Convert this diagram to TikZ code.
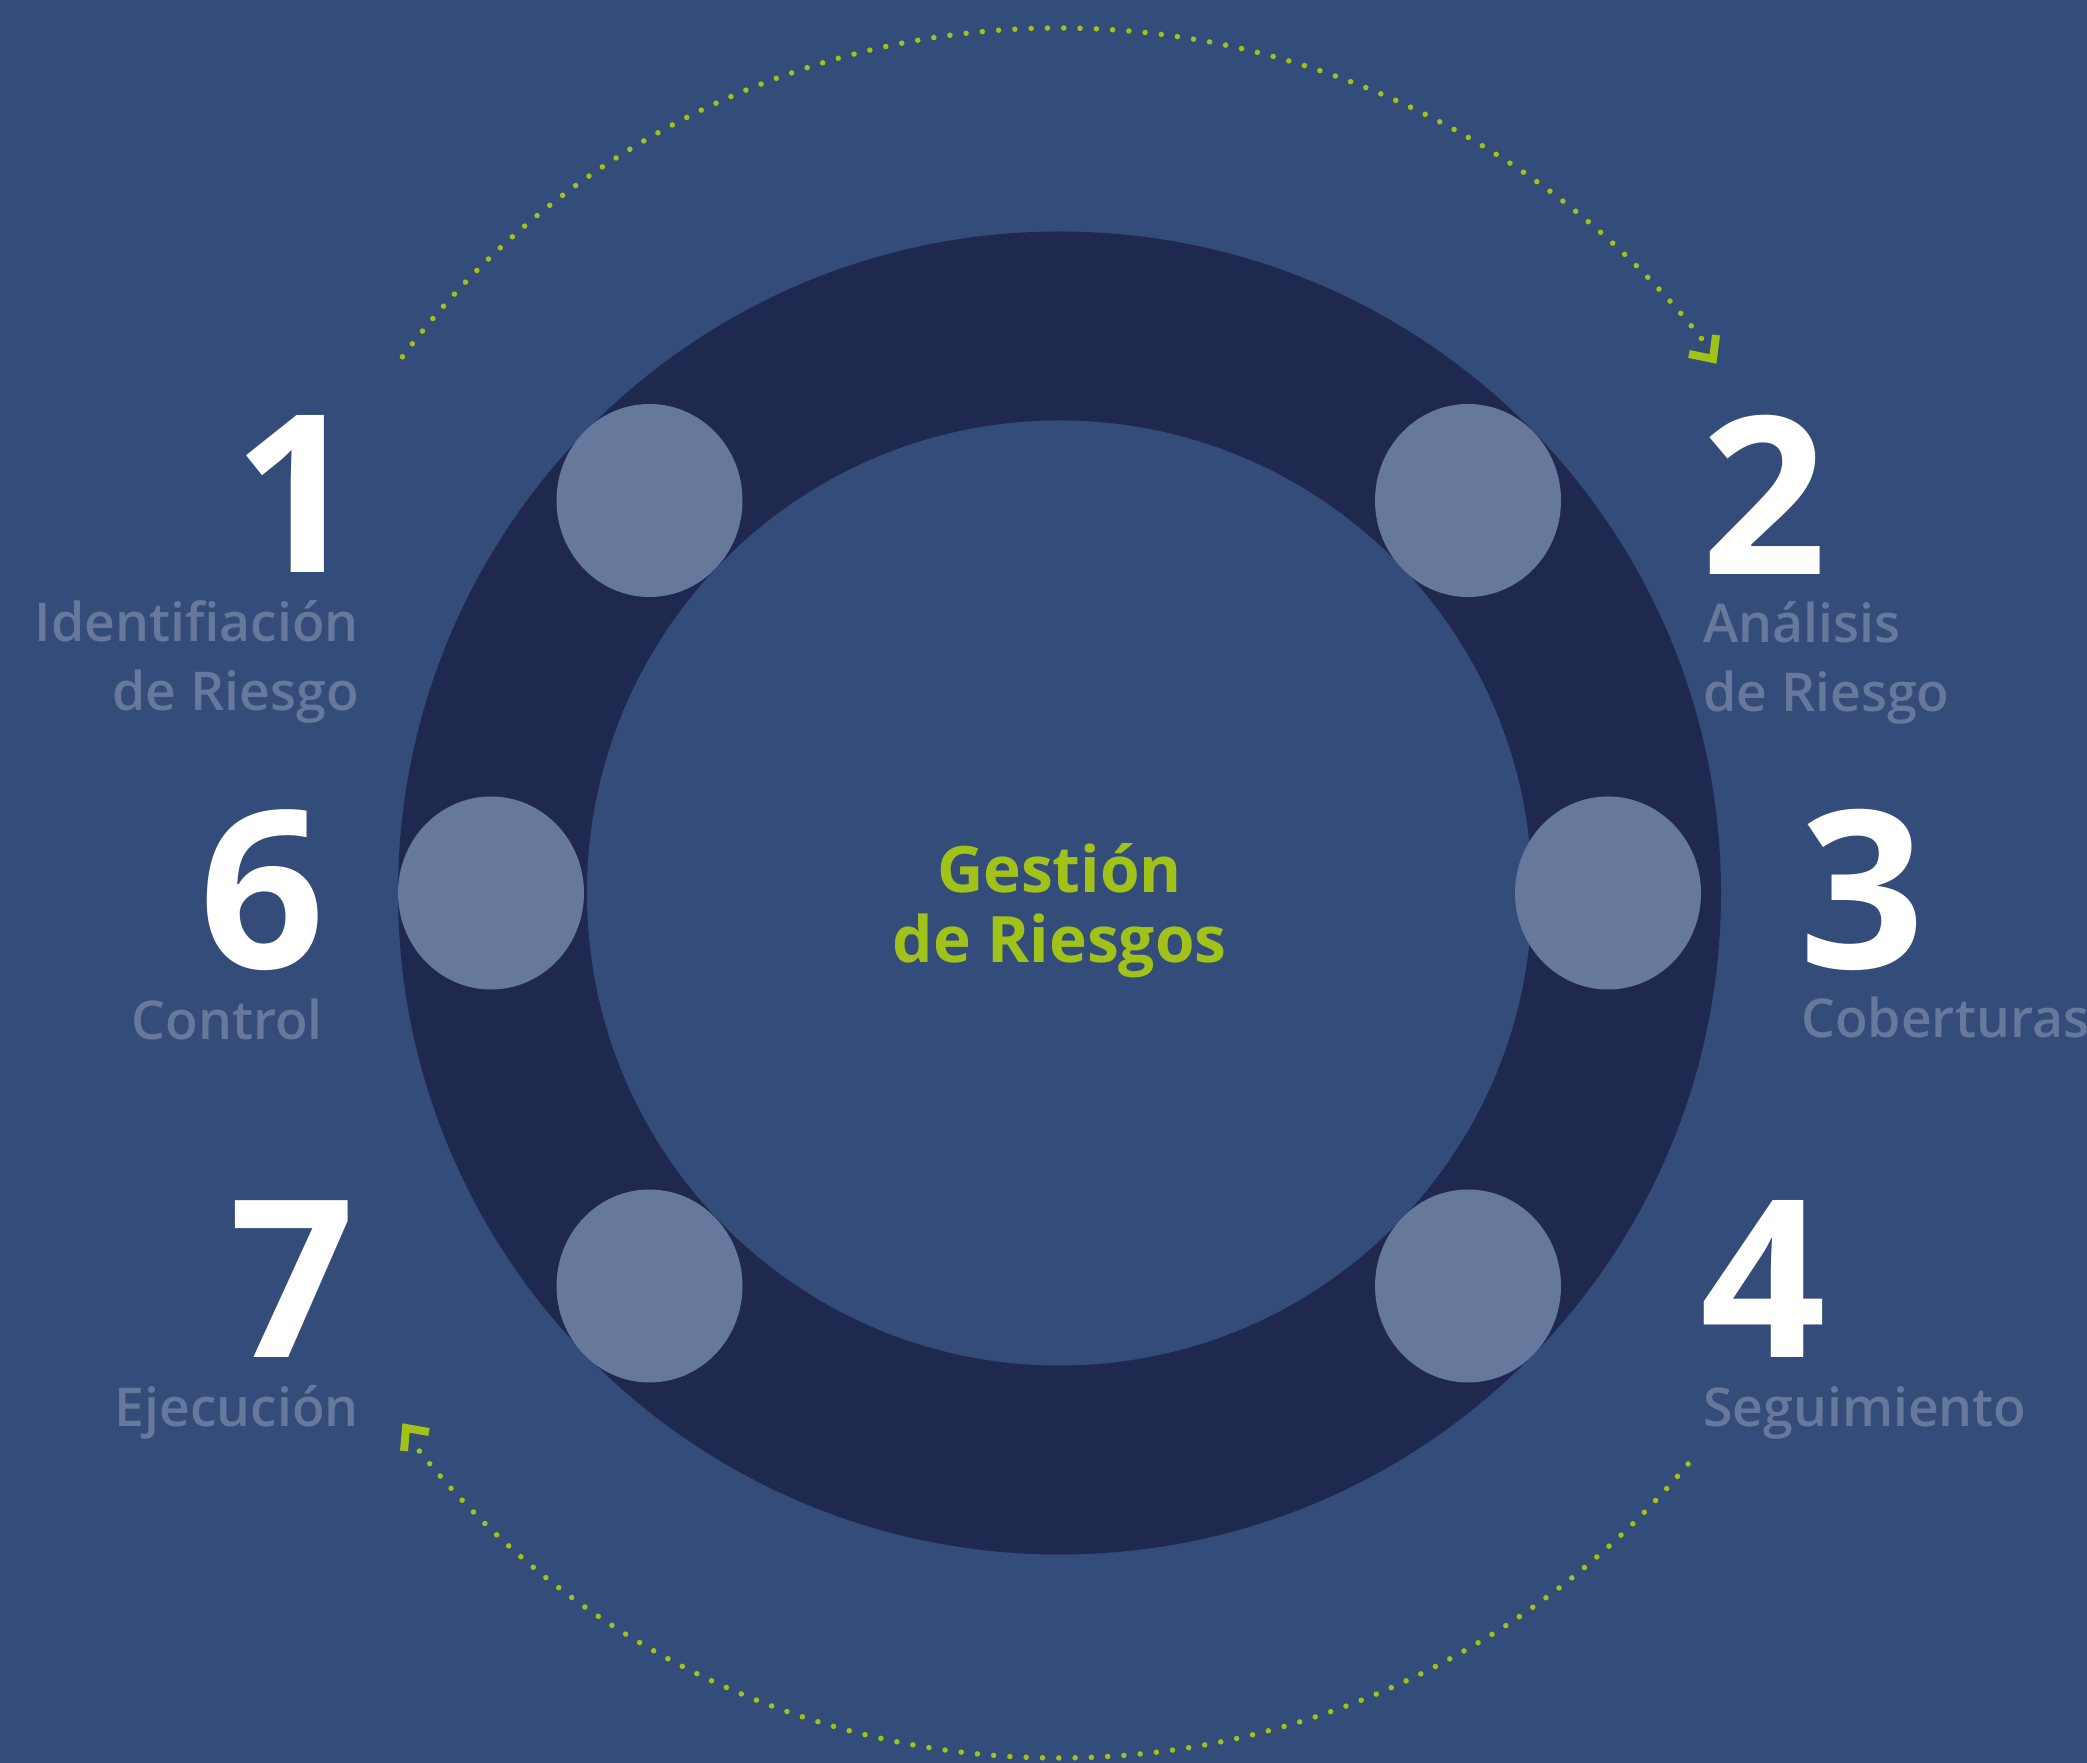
\documentclass[tikz,border=0pt]{standalone}
\usepackage{fontspec}
\setmainfont{Noto Sans}
\newcommand\pickfont[3]{\IfFontExistsTF{#2}{\newfontfamily#1{#2}}{#3}}
\pickfont\labfont{Noto Sans SemiBold}{\pickfont\labfont{Open Sans SemiBold}{\pickfont\labfont{Open Sans Semibold}{\newfontfamily\labfont{Noto Sans}[FakeBold=3]}}}
\pickfont\numfont{Noto Sans ExtraBold}{\pickfont\numfont{Noto Sans Bold}{\pickfont\numfont{Open Sans ExtraBold}{\pickfont\numfont{Open Sans Bold}{\newfontfamily\numfont{Noto Sans}[FakeBold=5]}}}}
\pickfont\ctrfont{Noto Sans Bold}{\pickfont\ctrfont{Open Sans Bold}{\newfontfamily\ctrfont{Noto Sans}[FakeBold=3.5]}}
\usetikzlibrary{shapes.geometric}
\definecolor{bg}{HTML}{344C7A}
\definecolor{ringc}{HTML}{1F2950}
\definecolor{dotc}{HTML}{66789B}
\definecolor{lime}{HTML}{A1C219}
\tikzset{
  stage/.style={ellipse, fill=dotc, inner sep=0pt, minimum width=186pt, minimum height=193pt},
  num/.style={font=\numfont\fontsize{220}{220}\selectfont, text=white, inner sep=0pt},
  lab/.style={font=\labfont\fontsize{53.5}{69}\selectfont, text=dotc, inner sep=0pt},
  ctr/.style={font=\ctrfont\fontsize{64}{70}\selectfont, text=lime, inner sep=0pt, align=center},
  flow/.style={draw=lime, line width=5.5pt, line cap=round, dash pattern=on 0pt off 16.3pt},
  chev/.style={draw=lime, line width=8pt, miter limit=10},
}
\begin{document}
\begin{tikzpicture}[x=1pt,y=1pt]
\fill[bg] (0,0) rectangle (2087,1763);
\useasboundingbox (0,0) rectangle (2087,1763);
\coordinate (C) at (1059.5,870);
\fill[ringc] (C) circle[radius=661.5];
\fill[bg] (C) circle[radius=472.5];
% stage circles
\node[stage] (c1) at (649.5,1262.5) {};
\node[stage] (c2) at (1468,1262.5) {};
\node[stage] (c6) at (491,870) {};
\node[stage] (c3) at (1608,870) {};
\node[stage] (c7) at (649.5,477) {};
\node[stage] (c4) at (1468,477) {};
% center text
\node[ctr, anchor=base] (g1) at (1059.5,870) {Gestión};
\node[ctr, anchor=base] (g2) at (1059.5,800) {de Riesgos};
% numbers
\node[num, anchor=base east] (n1) at (359,1190) {1};
\node[num, anchor=base west] (n2) at (1701,1188) {2};
\node[num, anchor=base east] (n6) at (325,794) {6};
\node[num, anchor=base west] (n3) at (1799,794) {3};
\node[num, anchor=base east] (n7) at (355,405) {7};
\node[num, anchor=base west] (n4) at (1700,405) {4};
% labels
\node[lab, anchor=base east] (l1a) at (359,1121) {Identifiación};
\node[lab, anchor=base east] (l1b) at (359,1052) {de Riesgo};
\node[lab, anchor=base west] (l2a) at (1703,1120) {Análisis};
\node[lab, anchor=base west] (l2b) at (1703,1051) {de Riesgo};
\node[lab, anchor=base east] (l6) at (323,723) {Control};
\node[lab, anchor=base west] (l3) at (1801,725) {Coberturas};
\node[lab, anchor=base east] (l7) at (359,336) {Ejecución};
\node[lab, anchor=base west] (l4) at (1703,336) {Seguimiento};
% cycle arcs
\coordinate (A1) at (1059,915);
\coordinate (A2) at (1059,825);
\draw[flow] (A1) ++(143.2:820) arc[start angle=143.2, end angle=37.9, radius=820];
\draw[flow] (A2) ++(-39.9:820) arc[start angle=-39.9, end angle=-142, radius=820];
\coordinate (t1) at (1689,1409);
\coordinate (t2) at (1713,1404);
\coordinate (t3) at (1716,1428);
\draw[chev] (t1) -- (t2) -- (t3);
\coordinate (b1) at (404,312);
\coordinate (b2) at (406,335);
\coordinate (b3) at (429,331);
\draw[chev] (b1) -- (b2) -- (b3);
\end{tikzpicture}
\end{document}
